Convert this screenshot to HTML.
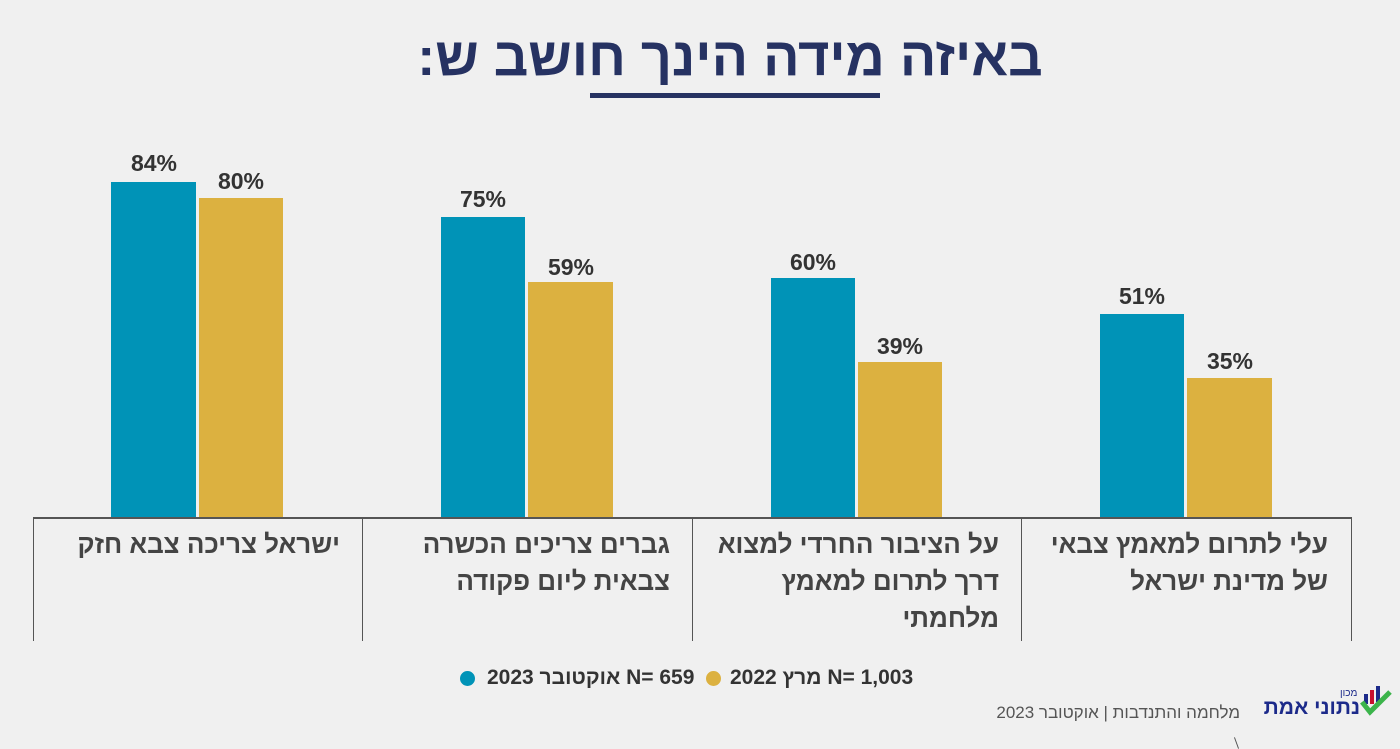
<!DOCTYPE html><html><head><meta charset="utf-8"><style>
body{margin:0;background:#f0f0f0;width:1400px;height:749px;position:relative;overflow:hidden;font-family:"Liberation Sans","Noto Sans CJK SC",sans-serif}
.a{position:absolute}
.b{position:absolute;background:#0093b7}
.g{position:absolute;background:#dcb140}
.v{position:absolute;font-weight:bold;font-size:23px;color:#333;text-align:center;width:86px}
.vl{position:absolute;top:518px;width:1px;height:123px;background:#555}
.lab{position:absolute;top:526px;direction:rtl;text-align:right;font-size:26px;font-weight:bold;color:#444;line-height:37px;width:310px}
.dot{position:absolute;width:15px;height:15px;border-radius:50%;top:671px}
.lt{position:absolute;top:666px;font-size:21px;font-weight:bold;color:#333;white-space:nowrap}
</style></head><body>
<div class="a" style="left:0;width:1460px;top:26px;text-align:center;font-size:54px;font-weight:bold;color:#263262;direction:rtl">באיזה מידה הינך חושב ש:</div>
<div class="a" style="left:590px;top:93px;width:290px;height:5px;background:#263262"></div>

<div class="b" style="left:111px;top:182px;width:85px;height:336px"></div>
<div class="g" style="left:199px;top:198px;width:84px;height:320px"></div>
<div class="b" style="left:441px;top:217px;width:84px;height:301px"></div>
<div class="g" style="left:528px;top:282px;width:85px;height:236px"></div>
<div class="b" style="left:771px;top:278px;width:84px;height:240px"></div>
<div class="g" style="left:858px;top:362px;width:84px;height:156px"></div>
<div class="b" style="left:1100px;top:314px;width:84px;height:204px"></div>
<div class="g" style="left:1187px;top:378px;width:85px;height:140px"></div>

<div class="v" style="left:111px;top:150px">84%</div>
<div class="v" style="left:198px;top:168px">80%</div>
<div class="v" style="left:440px;top:186px">75%</div>
<div class="v" style="left:528px;top:254px">59%</div>
<div class="v" style="left:770px;top:249px">60%</div>
<div class="v" style="left:857px;top:333px">39%</div>
<div class="v" style="left:1099px;top:283px">51%</div>
<div class="v" style="left:1187px;top:348px">35%</div>

<div class="a" style="left:33px;top:517px;width:1319px;height:2px;background:#555"></div>
<div class="vl" style="left:33px"></div><div class="vl" style="left:362px"></div><div class="vl" style="left:692px"></div><div class="vl" style="left:1021px"></div><div class="vl" style="left:1351px"></div>

<div class="lab" style="left:30px">ישראל צריכה צבא חזק</div>
<div class="lab" style="left:360px">גברים צריכים הכשרה צבאית ליום פקודה</div>
<div class="lab" style="left:689px">על הציבור החרדי למצוא דרך לתרום למאמץ מלחמתי</div>
<div class="lab" style="left:1018px">עלי לתרום למאמץ צבאי של מדינת ישראל</div>

<div class="dot" style="left:460px;background:#0093b7"></div>
<div class="lt" style="left:487px"><span dir="rtl">N= 659 אוקטובר 2023</span></div>
<div class="dot" style="left:706px;background:#dcb140"></div>
<div class="lt" style="left:730px"><span dir="rtl">N= 1,003 מרץ 2022</span></div>

<div class="a" style="left:940px;top:703px;font-size:17px;color:#555;direction:rtl;width:300px;text-align:right;white-space:nowrap">מלחמה והתנדבות | אוקטובר 2023</div>
<div class="a" style="left:1278px;top:696px;width:82px;text-align:right;font-size:21px;font-weight:bold;color:#1c2a8a;direction:rtl;white-space:nowrap">נתוני אמת</div>
<div class="a" style="left:1340px;top:688px;font-size:10px;color:#1c2a8a">מכון</div>
<svg class="a" style="left:1360px;top:686px" width="32" height="34"><rect x="4" y="8" width="4" height="10" fill="#1c2a8a"/><rect x="10" y="4" width="4" height="14" fill="#c8102e"/><rect x="16" y="0" width="4" height="16" fill="#1c2a8a"/><path d="M2 16 L10 26 L30 6" stroke="#3cb44b" stroke-width="5" fill="none"/></svg>
<div class="a" style="left:1236px;top:737px;width:1px;height:12px;background:#555;transform:rotate(-20deg)"></div>
</body></html>
